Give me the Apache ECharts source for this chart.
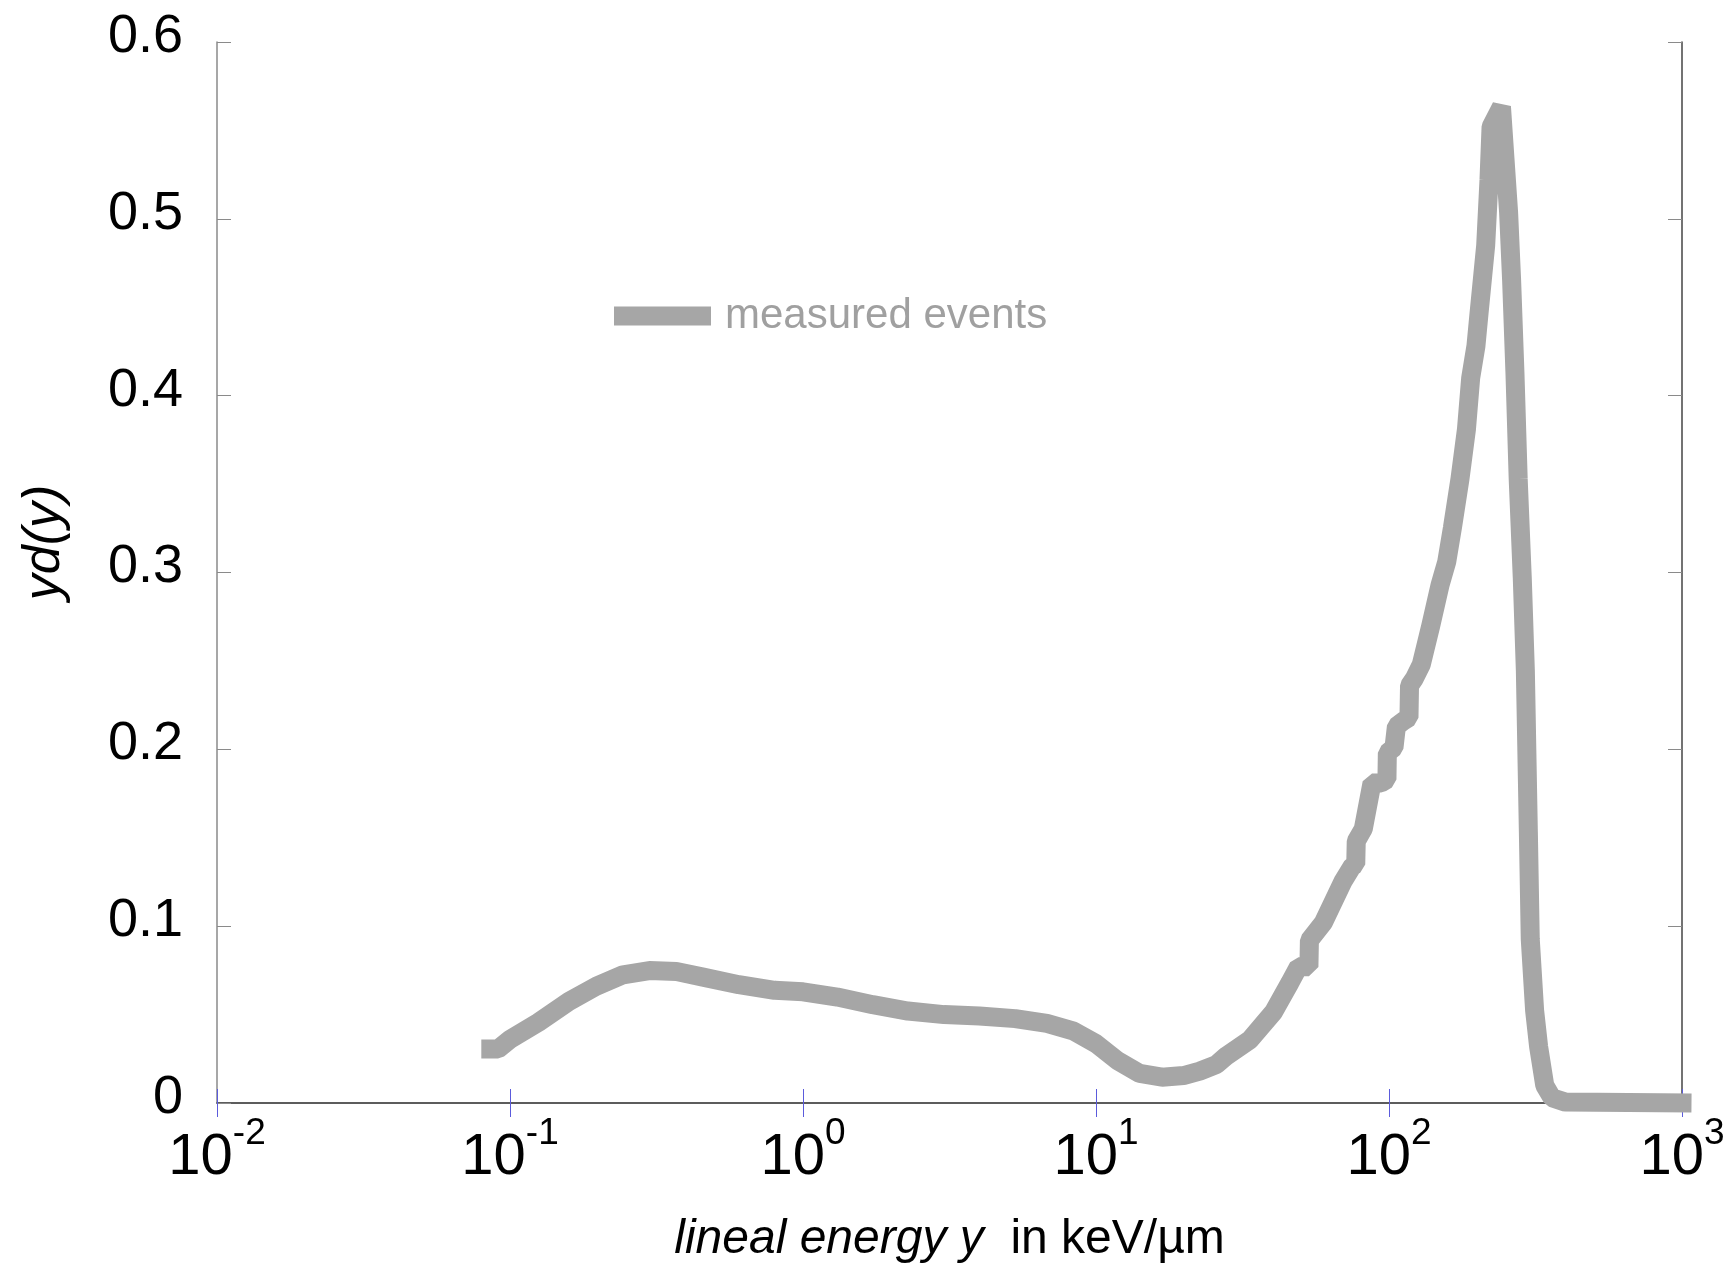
<!DOCTYPE html>
<html>
<head>
<meta charset="utf-8">
<title>yd(y) lineal energy spectrum</title>
<script src="https://cdn.jsdelivr.net/npm/echarts@6/dist/echarts.min.js"></script>
<style>
  html, body { margin: 0; padding: 0; background: #ffffff; }
  #chart { width: 1735px; height: 1269px; }
</style>
</head>
<body>
<div id="chart"></div>
<script>
// lineal energy y (keV/µm)
const energy = [
  0.086, 0.091, 0.1, 0.125, 0.159, 0.197, 0.243, 0.299, 0.37, 0.456,
  0.604, 0.80, 1.0, 1.31, 1.73, 2.28, 3.03, 4.0, 5.3, 6.8,
  8.4, 10, 11.9, 14.1, 16.8, 19.9, 22.6, 25.8, 27.9, 33.5,
  40.3, 45.9, 49.1, 53.3, 53.5, 59.7, 69.8, 75, 77, 77.3,
  81.7, 87.5, 94, 98.4, 98.7, 104, 106, 112, 117, 117.5,
  122, 128.9, 138.3, 149.4, 157.4, 164.5, 174.7, 183.8, 190, 198,
  203, 213.8, 219.4, 223, 242, 256, 262, 269, 276, 285,
  292, 299, 303.5, 314, 324, 340, 360, 400, 1000
];
// yd(y)
const ydy = [
  0.0305, 0.0305, 0.036, 0.0456, 0.0575, 0.066, 0.0725, 0.0749, 0.0744, 0.0712,
  0.0669, 0.0637, 0.0629, 0.0599, 0.0556, 0.052, 0.050, 0.0492, 0.0477, 0.045,
  0.0406, 0.0336, 0.0237, 0.0167, 0.0146, 0.0155, 0.018, 0.0218, 0.0267, 0.0357,
  0.0513, 0.068, 0.077, 0.077, 0.092, 0.102, 0.1256, 0.134, 0.135, 0.148,
  0.155, 0.181, 0.181, 0.183, 0.198, 0.201, 0.213, 0.216, 0.218, 0.236,
  0.240, 0.248, 0.2687, 0.293, 0.306, 0.325, 0.353, 0.381, 0.41, 0.428,
  0.447, 0.485, 0.522, 0.552, 0.5635, 0.5035, 0.466, 0.4135, 0.353, 0.297,
  0.2445, 0.153, 0.0925, 0.0524, 0.032, 0.010, 0.003, 0.0005, 0
];
// decade tick values shown on the energy axis
const xTicks = [0.01, 0.1, 1, 10, 100, 1000];
const seriesName = 'measured events';

const points = energy.map((e, i) => [e, ydy[i]]);

const chart = echarts.init(document.getElementById('chart'), null, { renderer: 'canvas' });

const tickBlue = '#5b5bdc';
const frameDark = '#444444';
const frameGray = '#8a8a8a';
const narrow = '"Liberation Sans Narrow", "Liberation Sans", Arial, sans-serif';
const sans = '"Liberation Sans", Arial, sans-serif';

chart.setOption({
  backgroundColor: '#ffffff',
  animation: false,
  grid: { left: 217, right: 53, top: 42, bottom: 162, containLabel: false },
  legend: {
    data: [seriesName],
    left: 614,
    top: 290,
    padding: 0,
    icon: 'rect',
    itemWidth: 97,
    itemHeight: 19,
    itemStyle: { color: '#a6a6a6' },
    textStyle: {
      color: '#a0a0a0',
      fontSize: 42,
      fontFamily: sans,
      lineHeight: 46,
      padding: [6, 0, 0, 9]
    }
  },
  xAxis: [
    {
      type: 'log',
      logBase: 10,
      min: 0.01,
      max: 1000,
      position: 'bottom',
      name: '{i|lineal energy y}{n|  in keV/µm}',
      nameLocation: 'middle',
      nameGap: 107,
      nameTextStyle: {
        rich: {
          i: { fontSize: 48, fontStyle: 'italic', fontFamily: narrow, color: '#000', lineHeight: 60 },
          n: { fontSize: 48, fontFamily: narrow, color: '#000', lineHeight: 60 }
        }
      },
      axisLine: { show: true, lineStyle: { color: frameGray, width: 1.5 } },
      axisTick: { show: true, inside: true, length: 14, lineStyle: { color: tickBlue, width: 1 } },
      minorTick: { show: false },
      splitLine: { show: false },
      axisLabel: {
        margin: 12,
        formatter: function (v) {
          const p = Math.round(Math.log10(v));
          if (!xTicks.some(t => Math.abs(Math.log10(t) - p) < 1e-9)) return '';
          return '{b|10}{s|' + p + '}';
        },
        rich: {
          b: { fontSize: 58, fontFamily: narrow, color: '#000', lineHeight: 72, verticalAlign: 'bottom' },
          s: { fontSize: 37, fontFamily: narrow, color: '#000', lineHeight: 40, verticalAlign: 'top' }
        }
      }
    },
    {
      type: 'log',
      logBase: 10,
      min: 0.01,
      max: 1000,
      position: 'top',
      axisLine: { show: true, lineStyle: { color: frameDark, width: 1.5 } },
      axisTick: { show: true, inside: true, length: 14, lineStyle: { color: tickBlue, width: 1 } },
      axisLabel: { show: false },
      splitLine: { show: false }
    }
  ],
  yAxis: [
    {
      type: 'value',
      min: 0,
      max: 0.6,
      interval: 0.1,
      position: 'left',
      name: 'yd(y)',
      nameLocation: 'middle',
      nameRotate: 90,
      nameGap: 146,
      nameTextStyle: {
        fontSize: 52,
        fontStyle: 'italic',
        fontFamily: sans,
        color: '#000',
        padding: [0, 0, 0, 60]
      },
      axisLine: { show: true, lineStyle: { color: frameGray, width: 1.5 } },
      axisTick: { show: true, inside: true, length: 14, lineStyle: { color: frameGray, width: 1 } },
      splitLine: { show: false },
      axisLabel: {
        margin: 34,
        fontSize: 54,
        fontFamily: sans,
        color: '#000',
        lineHeight: 10,
        verticalAlign: 'bottom',
        formatter: v => (v === 0 ? '0' : v.toFixed(1))
      }
    },
    {
      type: 'value',
      min: 0,
      max: 0.6,
      interval: 0.1,
      position: 'right',
      axisLine: { show: true, lineStyle: { color: frameDark, width: 1.5 } },
      axisTick: { show: true, inside: true, length: 14, lineStyle: { color: frameGray, width: 1 } },
      axisLabel: { show: false },
      splitLine: { show: false }
    }
  ],
  series: [
    {
      name: seriesName,
      type: 'line',
      xAxisIndex: 0,
      yAxisIndex: 0,
      data: points,
      showSymbol: false,
      symbol: 'none',
      clip: false,
      z: 5,
      lineStyle: { color: '#a6a6a6', width: 19, cap: 'square', join: 'bevel' }
    }
  ]
});
</script>
</body>
</html>
